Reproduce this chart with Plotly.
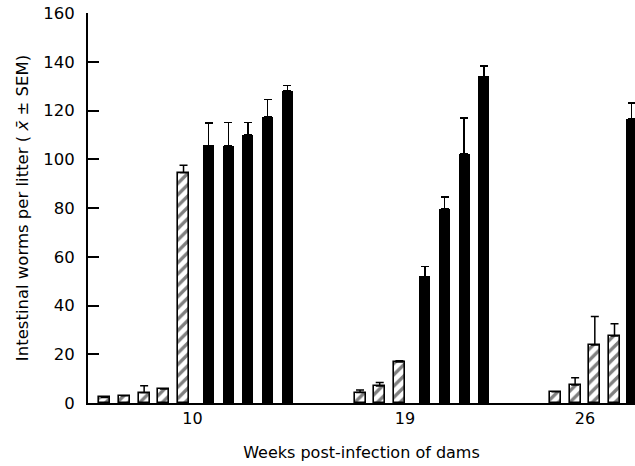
import plotly.graph_objects as go

# ---- data ----
groups = ["10", "19", "26"]

hatched_means = [
    [2.3, 3.0, 4.2, 5.7, 94.5],
    [4.3, 7.0, 16.8],
    [4.6, 7.4, 23.8, 27.5],
]
hatched_errs = [
    [0.0, 0.0, 2.9, 0.0, 3.0],
    [1.0, 1.4, 0.5],
    [0.0, 3.0, 11.7, 5.0],
]
solid_means = [
    [105.7, 105.4, 110.0, 117.3, 127.9],
    [52.0, 79.7, 102.3, 134.0],
    [116.7],
]
solid_errs = [
    [9.2, 9.6, 5.0, 7.2, 2.3],
    [4.0, 4.9, 14.7, 4.3],
    [6.3],
]

y_ticks = [0, 20, 40, 60, 80, 100, 120, 140, 160]

# ---- layout parameters (slot units: one bar spacing = 1) ----
group_start = [0.85, 13.81, 23.73]      # position of first bar in each group
solid_gap = [1.27, 1.29, 0.87]          # spacing from last hatched bar to first solid bar
label_offset = [4.45, 2.28, 1.50]       # group label position relative to first bar
bar_w = 0.56
x_max = 27.77

hx, hy, he, sx, sy, se, tickvals = [], [], [], [], [], [], []
for g in range(len(groups)):
    start = group_start[g]
    nh = len(hatched_means[g])
    for i in range(nh):
        hx.append(start + i)
        hy.append(hatched_means[g][i])
        he.append(hatched_errs[g][i])
    s0 = start + (nh - 1) + solid_gap[g]
    for j in range(len(solid_means[g])):
        sx.append(s0 + j)
        sy.append(solid_means[g][j])
        se.append(solid_errs[g][j])
    tickvals.append(start + label_offset[g])

err_style = dict(type="data", symmetric=False, color="black", thickness=1.5, width=4)

fig = go.Figure()
fig.add_trace(go.Bar(
    x=hx, y=hy, width=bar_w,
    marker=dict(color="white", line=dict(color="black", width=1.6),
                pattern=dict(shape="/", fgcolor="black", bgcolor="white", size=8, solidity=0.42)),
    error_y=dict(array=he, arrayminus=[0] * len(he), **err_style),
    showlegend=False,
))
fig.add_trace(go.Bar(
    x=sx, y=sy, width=bar_w,
    marker=dict(color="black", line=dict(color="black", width=0)),
    error_y=dict(array=se, arrayminus=[0] * len(se), **err_style),
    showlegend=False,
))

font_family = "DejaVu Sans"
fig.update_layout(
    width=635, height=466,
    margin=dict(l=88, r=0, t=13, b=63),
    paper_bgcolor="white", plot_bgcolor="white",
    font=dict(family=font_family, size=16, color="black"),
    bargap=0,
)
fig.update_xaxes(
    range=[0, x_max], tickmode="array", tickvals=tickvals, ticktext=groups,
    showline=True, linecolor="black", linewidth=2, ticks="", showgrid=False, zeroline=False,
    tickfont=dict(size=16),
    title=dict(text="Weeks post-infection of dams", font=dict(size=16), standoff=20),
)
fig.update_yaxes(
    range=[0, 160], tickmode="array", tickvals=y_ticks,
    showline=True, linecolor="black", linewidth=2, ticks="inside", ticklen=11, tickwidth=2,
    tickcolor="black", showgrid=False, zeroline=False, ticklabelstandoff=8,
    tickfont=dict(size=16.5),
    title=dict(text="Intestinal worms per litter ( <i>x̄</i> ± SEM)", font=dict(size=16.5), standoff=10),
)

fig.write_html("out.html")
